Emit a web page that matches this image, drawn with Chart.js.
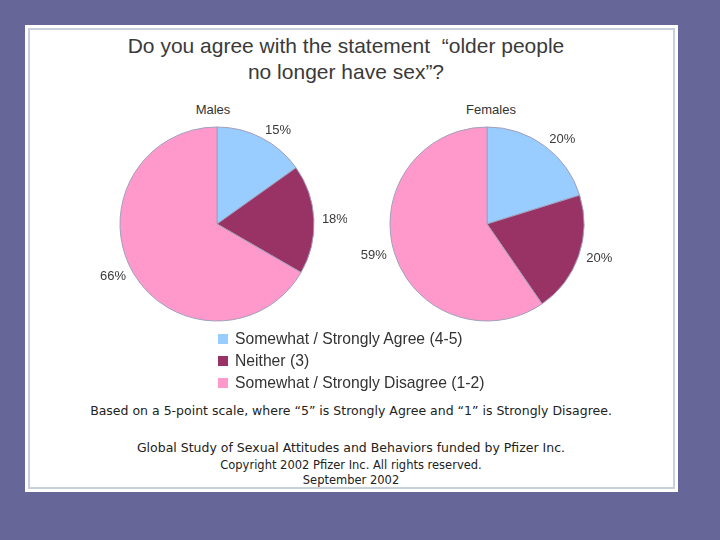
<!DOCTYPE html>
<html>
<head>
<meta charset="utf-8">
<script src="https://cdn.jsdelivr.net/npm/chart.js@4.4.1/dist/chart.umd.min.js"></script>
<style>
  html, body { margin: 0; padding: 0; }
  body { width: 720px; height: 540px; background: #666699; position: relative; overflow: hidden;
    font-family: "Liberation Sans", Arial, sans-serif; color: #333; }
  .panel { position: absolute; left: 25px; top: 25px; width: 653px; height: 467px; background: #fff; }
  .frame { position: absolute; left: 28px; top: 28px; width: 643px; height: 457px; border: 2px solid #c8d0da; }
  .abs { position: absolute; white-space: nowrap; }
  .title { left: 46px; width: 600px; top: 33px; text-align: center; font-size: 21px; line-height: 26px; color: #3a3a3a; }
  .pieTitle { font-size: 13px; text-align: center; width: 120px; top: 102px; }
  .legend { left: 218px; top: 328px; font-size: 15.7px; line-height: 22px; }
  .legend span.sw { display: inline-block; width: 10px; height: 10px; margin-right: 7px; }
  .note { left: 51px; width: 600px; text-align: center; font-family: "DejaVu Sans", Verdana, sans-serif; color: #222; }
  canvas { position: absolute; }
</style>
</head>
<body>
<div class="panel"></div>
<div class="frame"></div>
<div class="abs title">Do you agree with the statement&nbsp; “older people<br>no longer have sex”?</div>
<div class="abs pieTitle" style="left:153px">Males</div>
<div class="abs pieTitle" style="left:431px">Females</div>
<canvas id="chartMales" width="260" height="230" style="left:87px;top:109px"></canvas>
<canvas id="chartFemales" width="260" height="230" style="left:357px;top:109px"></canvas>
<div class="abs legend" id="legend"></div>
<div class="abs note" style="top:403px;font-size:12.5px">Based on a 5-point scale, where “5” is Strongly Agree and “1” is Strongly Disagree.</div>
<div class="abs note" style="top:440px;font-size:12.5px">Global Study of Sexual Attitudes and Behaviors funded by Pfizer Inc.</div>
<div class="abs note" style="top:458px;font-size:11.5px">Copyright 2002 Pfizer Inc. All rights reserved.</div>
<div class="abs note" style="top:473px;font-size:11.5px">September 2002</div>
<script>
// ---- data ----
const categories    = ['Somewhat / Strongly Agree (4-5)', 'Neither (3)', 'Somewhat / Strongly Disagree (1-2)'];
const malesValues   = [15, 18, 66];
const femalesValues = [20, 20, 59];
const sliceColours  = ['#99ccff', '#993366', '#ff99cc'];

// percentage labels just outside each slice, anchored on the side facing the pie
const outsideLabels = {
  id: 'outsideLabels',
  afterDatasetsDraw(chart) {
    const ctx = chart.ctx;
    const meta = chart.getDatasetMeta(0);
    ctx.save();
    ctx.font = '13px "Liberation Sans", Arial, sans-serif';
    ctx.fillStyle = '#3a3a3a';
    ctx.textBaseline = 'middle';
    meta.data.forEach((arc, i) => {
      const p = arc.getProps(['x', 'y', 'startAngle', 'endAngle', 'outerRadius'], true);
      const mid = (p.startAngle + p.endAngle) / 2;
      const d = p.outerRadius + 8;
      const cx = Math.cos(mid);
      ctx.textAlign = cx >= 0 ? 'left' : 'right';
      ctx.fillText(chart.data.datasets[0].data[i] + '%', p.x + cx * d, p.y + Math.sin(mid) * d);
    });
    ctx.restore();
  }
};

function makePie(id, values) {
  return new Chart(document.getElementById(id), {
    type: 'pie',
    data: {
      labels: categories,
      datasets: [{
        data: values,
        backgroundColor: sliceColours,
        borderColor: '#a29fbb',
        borderWidth: 1
      }]
    },
    options: {
      responsive: false,
      animation: false,
      radius: 97,
      plugins: { legend: { display: false }, tooltip: { enabled: false } }
    },
    plugins: [outsideLabels]
  });
}

makePie('chartMales', malesValues);
makePie('chartFemales', femalesValues);

document.getElementById('legend').innerHTML = categories.map((c, i) =>
  `<div><span class="sw" style="background:${sliceColours[i]}"></span>${c}</div>`).join('');
</script>
</body>
</html>
